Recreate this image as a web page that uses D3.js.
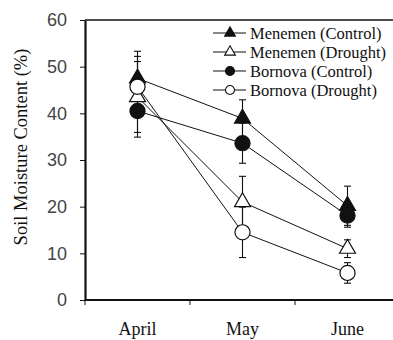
<!DOCTYPE html>
<html>
<head>
<meta charset="utf-8">
<script src="https://cdn.jsdelivr.net/npm/d3@7"></script>
<style>
  body { margin: 0; background: #fff; }
  svg { display: block; }
</style>
</head>
<body>
<svg id="plot"></svg>
<script>
svgWidth = 393;
svgHeight = 340;
margin = {top: 20, right: -7, bottom: 40, left: 85};

// months and tick values
months = ["April", "May", "June"];
yTicks = [0, 10, 20, 30, 40, 50, 60];

// series, in legend order
seriesNames = ["Menemen (Control)", "Menemen (Drought)", "Bornova (Control)", "Bornova (Drought)"];
menemenControl = [47.5, 38.9, 20.2];
menemenControlErr = [5.8, 4.0, 4.2];
menemenDrought = [43.5, 21.0, 11.0];
menemenDroughtErr = [7.6, 5.5, 1.9];
bornovaControl = [40.5, 33.6, 18.1];
bornovaControlErr = [5.6, 4.3, 2.5];
bornovaDrought = [45.7, 14.5, 5.8];
bornovaDroughtErr = [6.5, 5.4, 2.2];

function createSVG(series) {
    const svg = d3.select("#plot")
        .attr("width", svgWidth)
        .attr("height", svgHeight)
        .attr("viewBox", [0, 0, svgWidth, svgHeight]);

    const x = d3.scaleBand()
        .domain(months)
        .range([margin.left, svgWidth - margin.right]);

    const y = d3.scaleLinear()
        .domain([0, 60])
        .range([svgHeight - margin.bottom, margin.top]);

    // top frame line
    svg.append("line")
        .attr("x1", margin.left).attr("x2", svgWidth - margin.right)
        .attr("y1", y(60)).attr("y2", y(60))
        .attr("stroke", "#111")
        .attr("stroke-width", 1.6);

    // y axis
    const yAxis = svg.append("g")
        .attr("transform", `translate(${margin.left},0)`)
        .call(d3.axisLeft(y).tickValues(yTicks).tickSize(5).tickPadding(13).tickSizeOuter(0));
    yAxis.select(".domain").attr("stroke", "#111").attr("stroke-width", 2.2);
    yAxis.selectAll(".tick line").attr("stroke", "#111");
    yAxis.selectAll(".tick text")
        .attr("font-family", "'Liberation Sans', Arial, sans-serif")
        .attr("font-size", 18)
        .attr("fill", "#444");

    // x axis: ticks at band edges, labels at centres
    const xAxis = svg.append("g")
        .attr("transform", `translate(0,${y(0)})`);
    xAxis.append("line")
        .attr("x1", margin.left).attr("x2", svgWidth - margin.right)
        .attr("stroke", "#111").attr("stroke-width", 2.2);
    xAxis.selectAll(".edge")
        .data(months)
        .join("line")
        .attr("class", "edge")
        .attr("x1", d => x(d)).attr("x2", d => x(d))
        .attr("y1", 0).attr("y2", 5)
        .attr("stroke", "#111");
    xAxis.selectAll(".month")
        .data(months)
        .join("text")
        .attr("class", "month")
        .attr("x", d => x(d) + x.bandwidth() / 2)
        .attr("y", 35)
        .attr("text-anchor", "middle")
        .attr("font-family", "'Liberation Serif', 'Times New Roman', serif")
        .attr("font-size", 18)
        .attr("fill", "#111")
        .text(d => d);

    // y axis title
    svg.append("text")
        .attr("transform", `translate(27,${147}) rotate(-90)`)
        .attr("text-anchor", "middle")
        .attr("font-family", "'Liberation Serif', 'Times New Roman', serif")
        .attr("font-size", 18.5)
        .attr("fill", "#111")
        .text("Soil Moisture Content (%)");

    const cx = m => x(m) + x.bandwidth() / 2;

    const line = d3.line()
        .x((d, i) => cx(months[i]))
        .y(d => y(d));

    // connecting lines
    svg.append("g")
        .selectAll("path")
        .data(series)
        .join("path")
        .attr("fill", "none")
        .attr("stroke", "#111")
        .attr("stroke-width", 1)
        .attr("d", d => line(d.values));

    // error bars
    const bars = svg.append("g")
        .attr("stroke", "#111")
        .attr("stroke-width", 1.1);
    series.forEach(s => {
        s.values.forEach((v, i) => {
            const xc = cx(months[i]);
            const lo = y(v - s.err[i]), hi = y(v + s.err[i]);
            bars.append("line").attr("x1", xc).attr("x2", xc).attr("y1", lo).attr("y2", hi);
            bars.append("line").attr("x1", xc - 3.5).attr("x2", xc + 3.5).attr("y1", lo).attr("y2", lo);
            bars.append("line").attr("x1", xc - 3.5).attr("x2", xc + 3.5).attr("y1", hi).attr("y2", hi);
        });
    });

    // markers
    const marks = svg.append("g");
    series.forEach(s => {
        marks.append("g")
            .selectAll("path")
            .data(s.values)
            .join("path")
            .attr("transform", (d, i) => `translate(${cx(months[i])},${y(d)})`)
            .attr("d", d3.symbol().type(s.shape).size(s.shape === d3.symbolCircle ? 180 : 110))
            .attr("fill", s.fill)
            .attr("stroke", "#111")
            .attr("stroke-width", 1.2);
    });

    // legend
    const legend = svg.append("g")
        .selectAll("g")
        .data(series)
        .join("g")
        .attr("transform", (d, i) => `translate(213,${33 + i * 19})`);
    legend.append("line")
        .attr("x1", 0).attr("x2", 33)
        .attr("stroke", "#111");
    legend.append("path")
        .attr("transform", "translate(17,0)")
        .attr("d", d => d3.symbol().type(d.shape).size(d.shape === d3.symbolCircle ? 64 : 50)())
        .attr("fill", d => d.fill)
        .attr("stroke", "#111")
        .attr("stroke-width", 1.1);
    legend.append("text")
        .attr("x", 37)
        .attr("y", 6)
        .attr("font-family", "'Liberation Serif', 'Times New Roman', serif")
        .attr("font-size", 16.5)
        .attr("fill", "#111")
        .text(d => d.name);
}

function chartMain() {
    const series = [
        {name: seriesNames[0], values: menemenControl, err: menemenControlErr, shape: d3.symbolTriangle, fill: "#111"},
        {name: seriesNames[1], values: menemenDrought, err: menemenDroughtErr, shape: d3.symbolTriangle, fill: "#fff"},
        {name: seriesNames[2], values: bornovaControl, err: bornovaControlErr, shape: d3.symbolCircle, fill: "#111"},
        {name: seriesNames[3], values: bornovaDrought, err: bornovaDroughtErr, shape: d3.symbolCircle, fill: "#fff"}
    ];
    createSVG(series);
}

chartMain();
</script>
</body>
</html>
